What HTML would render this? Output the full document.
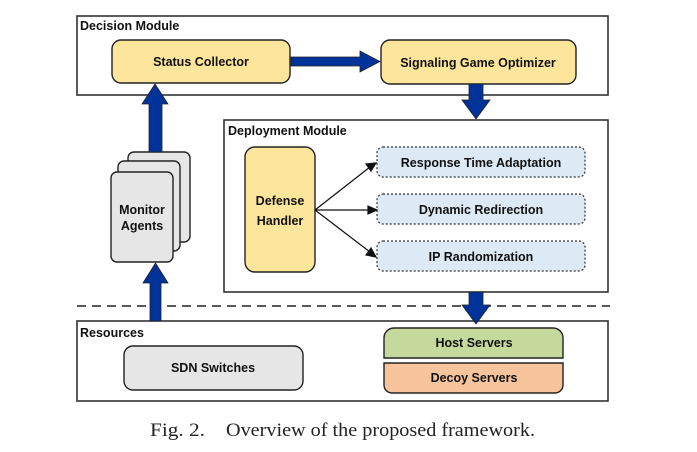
<!DOCTYPE html>
<html><head><meta charset="utf-8"><style>
html,body{margin:0;padding:0;background:#fff;width:697px;height:452px;overflow:hidden}
svg text{font-family:"Liberation Sans",Arial,sans-serif;font-weight:bold;font-size:12.5px;fill:#111}
</style></head><body>
<svg width="697" height="452" viewBox="0 0 697 452" xmlns="http://www.w3.org/2000/svg">
<g stroke="#333" stroke-width="1.6" fill="none">
<rect x="77" y="16" width="531" height="79" fill="#fff"/>
<rect x="224" y="120" width="384" height="172" fill="#fff"/>
<rect x="77" y="321" width="531" height="80" fill="#fff"/>
</g>
<line x1="77" y1="306" x2="610" y2="306" stroke="#222" stroke-width="1.4" stroke-dasharray="9,6"/>
<text x="80" y="30">Decision Module</text>
<text x="228" y="135">Deployment Module</text>
<text x="80" y="337">Resources</text>
<g stroke="#222" stroke-width="1.4">
<rect x="112" y="40" width="178" height="43" rx="9" fill="#fde59b"/>
<rect x="381" y="40" width="195" height="44" rx="9" fill="#fde59b"/>
<rect x="245" y="147" width="70" height="125" rx="10" fill="#fde59b"/>
<rect x="128" y="152" width="62" height="90" rx="6" fill="#e6e6e6"/>
<rect x="118" y="161" width="62" height="90" rx="6" fill="#e6e6e6"/>
<rect x="111" y="172" width="62" height="90" rx="6" fill="#e6e6e6"/>
<rect x="124" y="346" width="179" height="44" rx="9" fill="#e6e6e6"/>
<path d="M384 358 V338 a10 10 0 0 1 10 -10 H553 a10 10 0 0 1 10 10 V358 Z" fill="#c6d99d"/>
<path d="M384 363 H563 V385 a8 8 0 0 1 -8 8 H392 a8 8 0 0 1 -8 -8 Z" fill="#f7c49c"/>
</g>
<g stroke="#333" stroke-width="1.2" stroke-dasharray="2,2" fill="#dde9f5">
<rect x="377" y="147" width="208" height="30" rx="6"/>
<rect x="377" y="194" width="208" height="30" rx="6"/>
<rect x="377" y="241" width="208" height="30" rx="6"/>
</g>
<g fill="#003399" stroke="#222" stroke-width="0.8">
<polygon points="291,57 360,57 360,51 380,61.5 360,72 360,66 291,66"/>
<polygon points="469,84 483,84 483,100 490,100 476,119 462,100 469,100"/>
<polygon points="469,292 483,292 483,305 490,305 476,324 462,305 469,305"/>
<polygon points="149,152 162,152 162,104 168,104 155,84 142,104 149,104"/>
<polygon points="150,321 161,321 161,283 168,283 155.5,263 143,283 150,283"/>
</g>
<g stroke="#111" stroke-width="1.2" fill="#111">
<line x1="315" y1="210" x2="370" y2="167"/><polygon points="376,163 366,164 371,171"/>
<line x1="315" y1="210" x2="370" y2="210"/><polygon points="377,210 368,206 368,214"/>
<line x1="315" y1="210" x2="370" y2="252"/><polygon points="376,257 371,248 366,255"/>
</g>
<g text-anchor="middle">
<text x="201" y="66">Status Collector</text>
<text x="478" y="67">Signaling Game Optimizer</text>
<text x="280" y="205">Defense</text><text x="280" y="225">Handler</text>
<text x="142" y="214">Monitor</text><text x="142" y="230">Agents</text>
<text x="481" y="167">Response Time Adaptation</text>
<text x="481" y="214">Dynamic Redirection</text>
<text x="481" y="261">IP Randomization</text>
<text x="213" y="372">SDN Switches</text>
<text x="474" y="347">Host Servers</text>
<text x="474" y="382">Decoy Servers</text>
</g>
<text x="150" y="436" style="font-family:'Liberation Serif',serif;font-weight:normal;font-size:18.5px;fill:#222"><tspan x="150" textLength="55" lengthAdjust="spacingAndGlyphs">Fig. 2.</tspan><tspan x="226" textLength="309" lengthAdjust="spacingAndGlyphs">Overview of the proposed framework.</tspan></text>
</svg>
</body></html>
